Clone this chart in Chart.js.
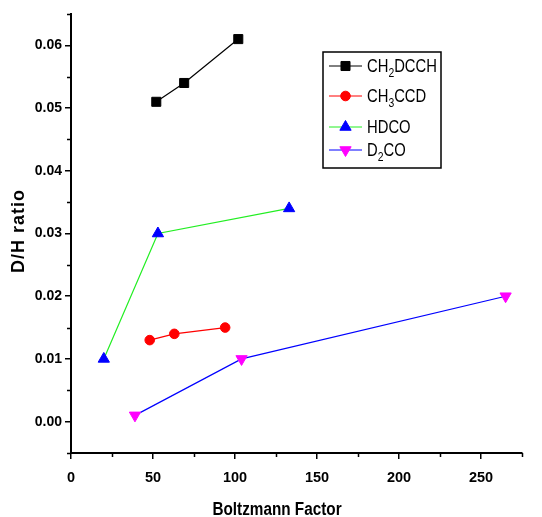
<!DOCTYPE html>
<html>
<head>
<meta charset="utf-8">
<script src="https://cdn.jsdelivr.net/npm/chart.js@4.4.0/dist/chart.umd.min.js"></script>
<style>
html, body { margin: 0; padding: 0; background: #fff; }
#wrap { width: 542px; height: 517px; }
</style>
</head>
<body>
<div id="wrap"><canvas id="myChart"></canvas></div>
<script>
"use strict";

const seriesNames = ["CH₂DCCH", "CH₃CCD", "HDCO", "D₂CO"];
const ch2dcchX = [52, 69, 102];
const ch2dcchY = [0.051, 0.054, 0.061];
const ch3ccdX = [48, 63, 94];
const ch3ccdY = [0.013, 0.014, 0.015];
const hdcoX = [20, 53, 133];
const hdcoY = [0.010, 0.030, 0.034];
const d2coX = [39, 104, 265];
const d2coY = [0.001, 0.010, 0.020];
const xTicks = [0, 50, 100, 150, 200, 250];
const xMinorTicks = [25, 75, 125, 175, 225, 275];
const yTicks = [0.00, 0.01, 0.02, 0.03, 0.04, 0.05, 0.06];
const yMinorTicks = [-0.005, 0.005, 0.015, 0.025, 0.035, 0.045, 0.055, 0.065];

const sans = "'Liberation Sans', Arial, sans-serif";

function toPoints(xs, ys) {
	return xs.map(function (x, i) {
		return { x: x, y: ys[i] };
	});
}

// short minor tick marks on both axes
const minorTicks = {
	id: "minorTicks",
	afterDraw(chart) {
		const ctx = chart.ctx;
		const xs = chart.scales.x;
		const ys = chart.scales.y;
		ctx.save();
		ctx.strokeStyle = "#000";
		ctx.lineWidth = 1.5;
		ctx.beginPath();
		xMinorTicks.forEach(function (v) {
			const px = Math.round(xs.getPixelForValue(v)) + 0.5;
			ctx.moveTo(px, xs.top);
			ctx.lineTo(px, xs.top + 4);
		});
		yMinorTicks.forEach(function (v) {
			const py = Math.round(ys.getPixelForValue(v)) + 0.5;
			ctx.moveTo(ys.right, py);
			ctx.lineTo(ys.right - 4, py);
		});
		ctx.stroke();
		ctx.restore();
	},
};

// axis titles placed like the original figure (narrowed type)
const axisTitles = {
	id: "axisTitles",
	afterDraw(chart) {
		const ctx = chart.ctx;
		ctx.save();
		ctx.fillStyle = "#000";
		ctx.textAlign = "center";
		ctx.textBaseline = "middle";
		ctx.font = "bold 18px " + sans;
		ctx.translate(277, 510);
		ctx.scale(0.85, 1);
		ctx.fillText("Boltzmann Factor", 0, 0);
		ctx.restore();

		ctx.save();
		ctx.fillStyle = "#000";
		ctx.textAlign = "center";
		ctx.textBaseline = "middle";
		ctx.translate(19, 231);
		ctx.rotate(-Math.PI / 2);
		ctx.font = "bold 18px " + sans;
		ctx.letterSpacing = "1px";
		ctx.fillText("D/H ratio", 0, 0);
		ctx.restore();
	},
};

function drawSubText(ctx, text, x, y) {
	const subs = "₀₁₂₃₄₅₆₇₈₉";
	let cx = 0;
	ctx.save();
	ctx.translate(x, y);
	ctx.scale(0.8, 1);
	for (const ch of text) {
		const k = subs.indexOf(ch);
		if (k >= 0) {
			ctx.font = "13px " + sans;
			ctx.fillText(String(k), cx, 6);
			cx += ctx.measureText(String(k)).width;
		} else {
			ctx.font = "18.5px " + sans;
			ctx.fillText(ch, cx, 0);
			cx += ctx.measureText(ch).width;
		}
	}
	ctx.restore();
}

// boxed legend inside the plot, upper right
const boxLegend = {
	id: "boxLegend",
	afterDraw(chart) {
		const ctx = chart.ctx;
		const left = 323, top = 52, w = 118, h = 116;
		const rows = [14, 44, 75, 98];
		ctx.save();
		ctx.fillStyle = "#fff";
		ctx.fillRect(left, top, w, h);
		ctx.strokeStyle = "#000";
		ctx.lineWidth = 1.5;
		ctx.strokeRect(left, top, w, h);
		chart.data.datasets.forEach(function (ds, i) {
			const y = top + rows[i];
			ctx.strokeStyle = ds.borderColor;
			ctx.lineWidth = 1;
			ctx.beginPath();
			ctx.moveTo(left + 6, y);
			ctx.lineTo(left + 39, y);
			ctx.stroke();
			ctx.fillStyle = ds.pointBackgroundColor;
			ctx.strokeStyle = ds.pointBackgroundColor;
			Chart.helpers.drawPoint(ctx, {
				pointStyle: ds.pointStyle,
				radius: ds.pointRadius,
				rotation: ds.pointRotation || 0,
				borderWidth: 1,
			}, left + 22.5, y);
			ctx.fillStyle = "#000";
			ctx.textAlign = "left";
			ctx.textBaseline = "middle";
			drawSubText(ctx, ds.label, left + 44, y + 1);
		});
		ctx.restore();
	},
};

const ctx = document.getElementById("myChart");

new Chart(ctx, {
	type: "scatter",
	data: {
		datasets: [
			{
				label: seriesNames[0],
				data: toPoints(ch2dcchX, ch2dcchY),
				borderColor: "#000000",
				pointBackgroundColor: "#000000",
				pointBorderColor: "#000000",
				pointStyle: "rect",
				pointRadius: 6.4,
			},
			{
				label: seriesNames[1],
				data: toPoints(ch3ccdX, ch3ccdY),
				borderColor: "#ff0000",
				pointBackgroundColor: "#ff0000",
				pointBorderColor: "#ff0000",
				pointStyle: "circle",
				pointRadius: 4.8,
			},
			{
				label: seriesNames[2],
				data: toPoints(hdcoX, hdcoY),
				borderColor: "#22ee22",
				pointBackgroundColor: "#0000ff",
				pointBorderColor: "#0000ff",
				pointStyle: "triangle",
				pointRadius: 6.5,
			},
			{
				label: seriesNames[3],
				data: toPoints(d2coX, d2coY),
				borderColor: "#0000ff",
				pointBackgroundColor: "#ff00ff",
				pointBorderColor: "#ff00ff",
				pointStyle: "triangle",
				pointRotation: 180,
				pointRadius: 6.5,
			},
		],
	},
	options: {
		responsive: true,
		maintainAspectRatio: false,
		animation: false,
		datasets: {
			scatter: {
				showLine: true,
				borderWidth: 1.2,
				tension: 0,
				pointBorderWidth: 1,
			},
		},
		layout: {
			padding: { top: 14, right: 20, left: 0, bottom: 0 },
		},
		plugins: {
			legend: { display: false },
			tooltip: { enabled: false },
		},
		scales: {
			x: {
				type: "linear",
				min: 0,
				max: 275,
				afterBuildTicks(scale) {
					scale.ticks = xTicks.map(function (v) {
						return { value: v };
					});
				},
				afterFit(scale) {
					scale.height = 64;
				},
				ticks: {
					autoSkip: false,
					maxRotation: 0,
					padding: 10,
					color: "#000",
					font: { family: sans, size: 14.5, weight: "bold" },
					callback: function (v) {
						return String(v);
					},
				},
				grid: {
					drawOnChartArea: false,
					drawTicks: true,
					tickLength: 6,
					color: "#000",
					lineWidth: 1.5,
				},
				border: { color: "#000", width: 2 },
			},
			y: {
				type: "linear",
				min: -0.005,
				max: 0.065,
				afterBuildTicks(scale) {
					scale.ticks = yTicks.map(function (v) {
						return { value: v };
					});
				},
				afterFit(scale) {
					scale.width = 71;
				},
				ticks: {
					autoSkip: false,
					padding: 3,
					color: "#000",
					font: { family: sans, size: 14, weight: "bold" },
					callback: function (v) {
						return v.toFixed(2);
					},
				},
				grid: {
					drawOnChartArea: false,
					drawTicks: true,
					tickLength: 6,
					color: "#000",
					lineWidth: 1.5,
				},
				border: { color: "#000", width: 2 },
			},
		},
	},
	plugins: [minorTicks, axisTitles, boxLegend],
});
</script>
</body>
</html>
